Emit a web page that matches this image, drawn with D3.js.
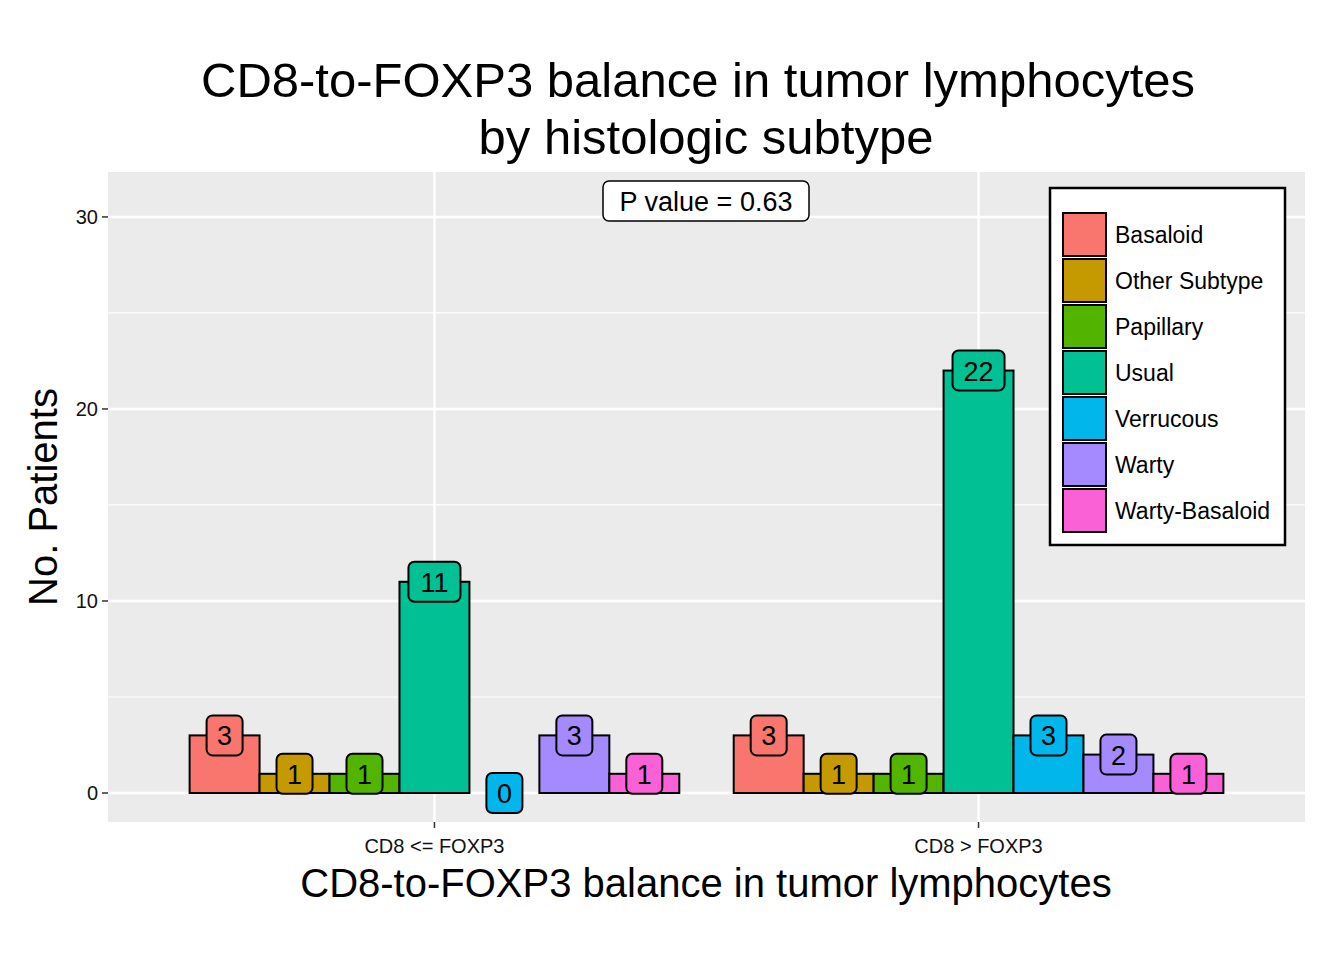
<!DOCTYPE html>
<html><head><meta charset="utf-8">
<script src="https://cdn.jsdelivr.net/npm/d3@7"></script>
<style>body{margin:0;background:#fff}text{font-family:"Liberation Sans",Arial,sans-serif}</style>
</head><body><svg id="c" width="1344" height="960"></svg>
<script>
const groups = ["CD8 <= FOXP3", "CD8 > FOXP3"]
const subtypes = ["Basaloid","Other Subtype","Papillary","Usual","Verrucous","Warty","Warty-Basaloid"]
const colors = ["#F8766D","#C49A00","#53B400","#00C094","#00B6EB","#A58AFF","#FB61D7"]
const low = [3,1,1,11,0,3,1]
const high = [3,1,1,22,3,2,1]
const yTicks = [0,10,20,30]
const minorTicks = [5,15,25]

const svg = d3.select("#c")
const L = 108, R = 1305, T = 172, B = 822
const y = d3.scaleLinear().domain([-1.51, 32.34]).range([B, T])
const x = d3.scaleLinear().domain([0.4, 2.6]).range([L, R])
const inner = d3.scaleBand().domain(subtypes).range([-0.45, 0.45])

svg.append("rect").attr("x",L).attr("y",T).attr("width",R-L).attr("height",B-T).attr("fill","#EBEBEB")
minorTicks.forEach(t => svg.append("line").attr("x1",L).attr("x2",R).attr("y1",y(t)).attr("y2",y(t)).attr("stroke","#fff").attr("stroke-width",1.2))
yTicks.forEach(t => svg.append("line").attr("x1",L).attr("x2",R).attr("y1",y(t)).attr("y2",y(t)).attr("stroke","#fff").attr("stroke-width",2.4))
groups.forEach((g,i) => svg.append("line").attr("x1",x(i+1)).attr("x2",x(i+1)).attr("y1",T).attr("y2",B).attr("stroke","#fff").attr("stroke-width",2.4))

// y axis
yTicks.forEach(t => {
  svg.append("line").attr("x1",L-6).attr("x2",L).attr("y1",y(t)).attr("y2",y(t)).attr("stroke","#333").attr("stroke-width",1.5)
  svg.append("text").attr("x",L-10).attr("y",y(t)+7).attr("text-anchor","end").attr("font-size",20).attr("fill","#111").text(t)
})
groups.forEach((g,i) => {
  svg.append("line").attr("x1",x(i+1)).attr("x2",x(i+1)).attr("y1",B).attr("y2",B+6).attr("stroke","#333").attr("stroke-width",1.5)
  svg.append("text").attr("x",x(i+1)).attr("y",B+31).attr("text-anchor","middle").attr("font-size",20).attr("fill","#111").text(g)
})

const data = [low, high]
data.forEach((vals, gi) => {
  vals.forEach((v, si) => {
    const x0 = x(gi+1+inner(subtypes[si])), x1 = x(gi+1+inner(subtypes[si])+inner.bandwidth())
    svg.append("rect").attr("x",x0).attr("y",y(v)).attr("width",x1-x0).attr("height",y(0)-y(v))
      .attr("fill",colors[si]).attr("stroke","#000").attr("stroke-width",2)
  })
})
data.forEach((vals, gi) => {
  vals.forEach((v, si) => {
    const cx = x(gi+1+inner(subtypes[si])+inner.bandwidth()/2)
    const w = v >= 10 ? 52 : 36
    svg.append("rect").attr("x",cx-w/2).attr("y",y(v)-20).attr("width",w).attr("height",40).attr("rx",6)
      .attr("fill",colors[si]).attr("stroke","#000").attr("stroke-width",2)
    svg.append("text").attr("x",cx).attr("y",y(v)+10).attr("text-anchor","middle").attr("font-size",27).text(v)
  })
})

// p value
svg.append("rect").attr("x",603).attr("y",181).attr("width",206).attr("height",40).attr("rx",6).attr("fill","#fff").attr("stroke","#000").attr("stroke-width",1.5)
svg.append("text").attr("x",706).attr("y",211).attr("text-anchor","middle").attr("font-size",27).text("P value = 0.63")

// legend
svg.append("rect").attr("x",1050).attr("y",188).attr("width",235).attr("height",357).attr("fill","#fff").attr("stroke","#000").attr("stroke-width",2.5)
subtypes.forEach((s,i) => {
  const ky = 212 + i*46
  svg.append("rect").attr("x",1063).attr("y",ky+1).attr("width",43).attr("height",43).attr("fill",colors[i]).attr("stroke","#000").attr("stroke-width",2)
  svg.append("text").attr("x",1115).attr("y",ky+31).attr("font-size",23).text(s)
})

// titles
svg.append("text").attr("x",698).attr("y",97).attr("text-anchor","middle").attr("font-size",49).text("CD8-to-FOXP3 balance in tumor lymphocytes")
svg.append("text").attr("x",706).attr("y",154).attr("text-anchor","middle").attr("font-size",49).text("by histologic subtype")
svg.append("text").attr("x",706).attr("y",897).attr("text-anchor","middle").attr("font-size",40).text("CD8-to-FOXP3 balance in tumor lymphocytes")
svg.append("text").attr("transform",`translate(57,${(T+B)/2}) rotate(-90)`).attr("text-anchor","middle").attr("font-size",40).text("No. Patients")
</script></body></html>
